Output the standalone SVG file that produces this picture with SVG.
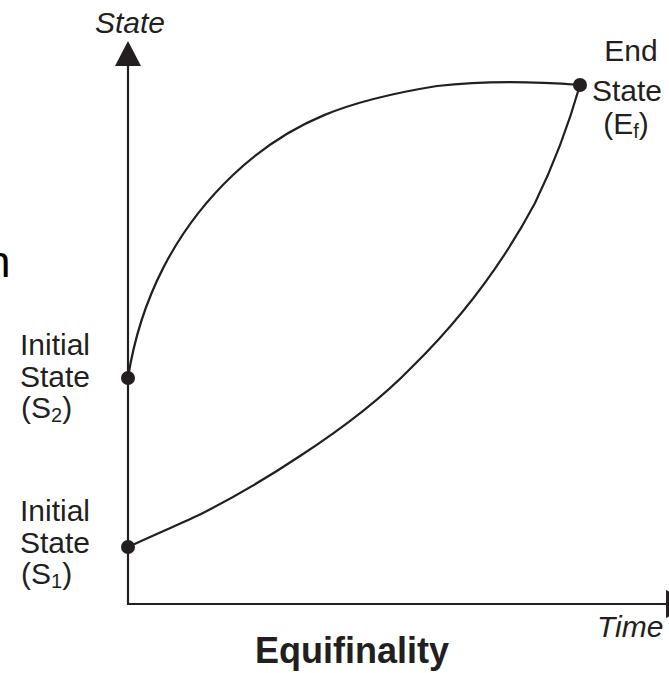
<svg xmlns="http://www.w3.org/2000/svg" width="669" height="673" viewBox="0 0 669 673">
<style>
.lbl{font-family:"Liberation Sans",Arial,sans-serif;font-size:30px;fill:#231f20}
.it{font-style:italic}
.sub{font-size:20px}
.curve{fill:none;stroke:#231f20;stroke-width:2.2}
.axis{fill:none;stroke:#231f20;stroke-width:2.2}
.dot{fill:#231f20}
</style>
<rect width="669" height="673" fill="#ffffff"/>
<text x="-14" y="277" font-family="'Liberation Sans',Arial,sans-serif" font-size="44" fill="#000">n</text>
<g id="axes">
<line class="axis" x1="128" y1="64" x2="128" y2="604"/>
<line class="axis" x1="127" y1="604" x2="667" y2="604"/>
<polygon points="128,41 141,66 115,66" fill="#231f20"/>
<polygon points="666,590 692,604 666,618" fill="#231f20"/>
<text class="lbl it" x="95" y="33">State</text>
<text class="lbl it" x="597" y="637">Time</text>
</g>
<g id="connectors">
<path class="curve" d="M128,378 C140,300 175,230 233,175 S350,100 437,86 C490,80 540,82 580,85"/>
<path class="curve" d="M128,547 C160,532 185,522 203,513 C240,494 270,476 300,456 C340,430 380,400 412,367 C470,310 510,250 535,203 C555,162 570,120 580,85"/>
</g>
<g id="s2">
<circle class="dot" cx="128" cy="378" r="7"/>
<text class="lbl" x="20" y="355">Initial</text>
<text class="lbl" x="20" y="387">State</text>
<text class="lbl" x="21" y="418">(S<tspan class="sub" dy="4">2</tspan><tspan dy="-4">)</tspan></text>
</g>
<g id="s1">
<circle class="dot" cx="128" cy="547" r="7"/>
<text class="lbl" x="20" y="521">Initial</text>
<text class="lbl" x="20" y="553">State</text>
<text class="lbl" x="21" y="584">(S<tspan class="sub" dy="4">1</tspan><tspan dy="-4">)</tspan></text>
</g>
<g id="end">
<circle class="dot" cx="580" cy="85" r="7"/>
<text class="lbl" x="631" y="61" text-anchor="middle">End</text>
<text class="lbl" x="627" y="101" text-anchor="middle">State</text>
<text class="lbl" x="626" y="134" text-anchor="middle">(E<tspan class="sub" dy="4">f</tspan><tspan dy="-4">)</tspan></text>
</g>
<text x="352" y="663" text-anchor="middle" font-family="'Liberation Sans',Arial,sans-serif" font-size="36" font-weight="bold" fill="#231f20">Equifinality</text>
</svg>
